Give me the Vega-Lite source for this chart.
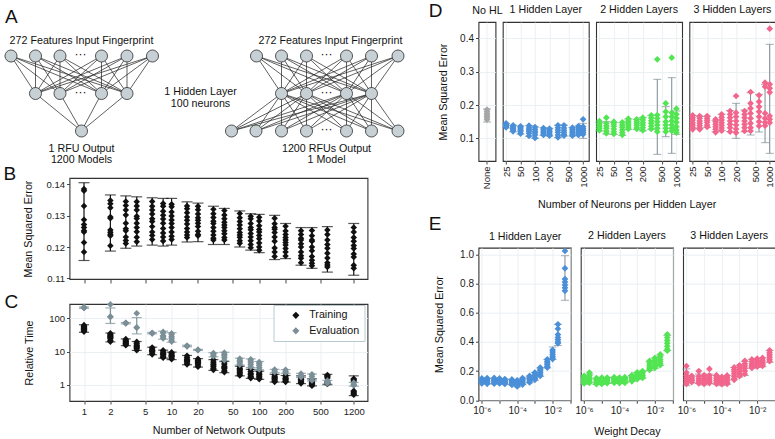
{
  "$schema": "https://vega.github.io/schema/vega-lite/v6.json",
  "padding": {"left": 1.5, "top": 0, "right": 0, "bottom": 0},
  "background": "white",
  "config": {
    "font": "Liberation Sans",
    "view": {"stroke": "#333333", "strokeWidth": 1.1},
    "axis": {"labelFontSize": 10, "labelColor": "#222222", "titleFontSize": 10.7, "titleFontWeight": "normal", "titleColor": "#111111", "tickColor": "#333333", "tickSize": 3, "tickWidth": 0.9, "domain": false, "gridColor": "#e6ecef", "gridWidth": 0.8, "labelPadding": 2},
    "title": {"fontSize": 10.7, "fontWeight": "normal", "color": "#111111", "offset": 6},
    "legend": {"labelFontSize": 10.7}
  },
  "datasets": {
    "b": [
      {"n":1,"lo":0.1157,"hi":0.1405,"v":[0.1385,0.1379,0.1331,0.1287,0.1272,0.1262,0.1252,0.1248,0.1214,0.1184]},
      {"n":2,"lo":0.1187,"hi":0.1366,"v":[0.1348,0.1338,0.1325,0.1296,0.1292,0.1254,0.1247,0.1241,0.1236,0.1204]},
      {"n":3,"lo":0.1196,"hi":0.1363,"v":[0.1345,0.1332,0.1318,0.1302,0.1276,0.1258,0.1252,0.1232,0.1221,0.1211]},
      {"n":4,"lo":0.1203,"hi":0.1360,"v":[0.1344,0.1331,0.1318,0.1298,0.1291,0.1276,0.1262,0.1249,0.1231,0.1217]},
      {"n":6,"lo":0.1206,"hi":0.1357,"v":[0.1345,0.1330,0.1318,0.1305,0.1290,0.1281,0.1265,0.1248,0.1237,0.1224]},
      {"n":8,"lo":0.1203,"hi":0.1355,"v":[0.1339,0.1330,0.1314,0.1301,0.1289,0.1276,0.1259,0.1245,0.1232,0.1219]},
      {"n":10,"lo":0.1206,"hi":0.1355,"v":[0.1336,0.1328,0.1312,0.1299,0.1286,0.1275,0.1262,0.1248,0.1234,0.1224]},
      {"n":15,"lo":0.1216,"hi":0.1344,"v":[0.1331,0.1322,0.1309,0.1296,0.1285,0.1273,0.1259,0.1248,0.1238,0.1230]},
      {"n":20,"lo":0.1217,"hi":0.1340,"v":[0.1330,0.1319,0.1305,0.1293,0.1285,0.1276,0.1265,0.1250,0.1240,0.1236]},
      {"n":30,"lo":0.1208,"hi":0.1330,"v":[0.1320,0.1306,0.1294,0.1282,0.1275,0.1262,0.1250,0.1238,0.1228,0.1222]},
      {"n":40,"lo":0.1208,"hi":0.1323,"v":[0.1316,0.1302,0.1290,0.1279,0.1270,0.1262,0.1252,0.1242,0.1230,0.1222]},
      {"n":60,"lo":0.1200,"hi":0.1315,"v":[0.1307,0.1293,0.1281,0.1270,0.1258,0.1246,0.1238,0.1231,0.1220,0.1212]},
      {"n":80,"lo":0.1190,"hi":0.1306,"v":[0.1298,0.1290,0.1275,0.1262,0.1255,0.1243,0.1232,0.1220,0.1208,0.1198]},
      {"n":100,"lo":0.1182,"hi":0.1304,"v":[0.1295,0.1283,0.1268,0.1256,0.1248,0.1237,0.1226,0.1213,0.1200,0.1190]},
      {"n":150,"lo":0.1160,"hi":0.1301,"v":[0.1292,0.1274,0.1262,0.1257,0.1246,0.1232,0.1218,0.1197,0.1184,0.1170]},
      {"n":200,"lo":0.1163,"hi":0.1275,"v":[0.1266,0.1251,0.1240,0.1230,0.1222,0.1214,0.1206,0.1195,0.1184,0.1171]},
      {"n":300,"lo":0.1142,"hi":0.1262,"v":[0.1252,0.1240,0.1228,0.1222,0.1210,0.1200,0.1184,0.1172,0.1164,0.1150]},
      {"n":400,"lo":0.1132,"hi":0.1262,"v":[0.1253,0.1236,0.1222,0.1218,0.1200,0.1188,0.1170,0.1158,0.1148,0.1140]},
      {"n":600,"lo":0.1120,"hi":0.1265,"v":[0.1254,0.1240,0.1222,0.1208,0.1196,0.1180,0.1165,0.1150,0.1143,0.1136]},
      {"n":1200,"lo":0.1110,"hi":0.1275,"v":[0.1262,0.1248,0.1230,0.1218,0.1205,0.1195,0.1178,0.1168,0.1142,0.1132]}
    ],
    "c": [
      {"n":1,"s":"Training","lo":38,"hi":64,"v":[62,57,53,50,48,45,42,40]},
      {"n":2,"s":"Training","lo":19.5,"hi":36,"v":[35,32,30,28,27,25,22,20]},
      {"n":3,"s":"Training","lo":15,"hi":24,"v":[23.5,21,20,18.5,17.5,16.5,15.5]},
      {"n":4,"s":"Training","lo":10.8,"hi":20,"v":[19.5,17,15.5,14.5,13.5,12.5,11]},
      {"n":6,"s":"Training","lo":8,"hi":13.5,"v":[13.2,12,11,10.5,10,9,8.2]},
      {"n":8,"s":"Training","lo":6.3,"hi":11,"v":[10.8,9.6,8.8,8.3,7.8,7,6.5]},
      {"n":10,"s":"Training","lo":5.7,"hi":9.6,"v":[9.4,8.5,7.8,7.4,7,6.4,5.9]},
      {"n":15,"s":"Training","lo":4,"hi":7.6,"v":[7.4,6.5,5.8,5.4,5,4.5,4.1]},
      {"n":20,"s":"Training","lo":3.4,"hi":6.1,"v":[6,5.4,5,4.7,4.3,3.9,3.5]},
      {"n":30,"s":"Training","lo":2.7,"hi":5.7,"v":[5.6,4.8,4.2,3.9,3.5,3.1,2.8]},
      {"n":40,"s":"Training","lo":2.3,"hi":5,"v":[4.9,4.2,3.6,3.3,3,2.6,2.4]},
      {"n":60,"s":"Training","lo":1.85,"hi":3.6,"v":[3.5,3.1,2.8,2.6,2.3,2.1,1.9]},
      {"n":80,"s":"Training","lo":1.55,"hi":2.9,"v":[2.85,2.5,2.2,2,1.8,1.65,1.58]},
      {"n":100,"s":"Training","lo":1.45,"hi":2.55,"v":[2.5,2.25,2.05,1.95,1.75,1.6,1.48]},
      {"n":150,"s":"Training","lo":1.2,"hi":2.05,"v":[2,1.8,1.65,1.55,1.4,1.3,1.22]},
      {"n":200,"s":"Training","lo":1.2,"hi":1.9,"v":[1.88,1.7,1.55,1.48,1.38,1.28,1.22]},
      {"n":300,"s":"Training","lo":1.08,"hi":1.85,"v":[1.82,1.6,1.45,1.38,1.28,1.17,1.1]},
      {"n":400,"s":"Training","lo":0.92,"hi":1.5,"v":[1.48,1.35,1.2,1.12,1.05,0.98,0.93]},
      {"n":600,"s":"Training","lo":1.0,"hi":2.05,"v":[1.95,1.85,1.75,1.6,1.2,1.12,1.05]},
      {"n":1200,"s":"Training","lo":0.47,"hi":1.85,"v":[1.5,1.4,1.3,0.65,0.6,0.55,0.5]},
      {"n":1,"s":"Evaluation","lo":200,"hi":220,"v":[215,210,205,208]},
      {"n":2,"s":"Evaluation","lo":70,"hi":205,"v":[263,112,110]},
      {"n":3,"s":"Evaluation","lo":68,"hi":75,"v":[72,70,73]},
      {"n":4,"s":"Evaluation","lo":34,"hi":105,"v":[141,53,52]},
      {"n":6,"s":"Evaluation","lo":34,"hi":37.5,"v":[36.5,35.5,35]},
      {"n":8,"s":"Evaluation","lo":23.5,"hi":41,"v":[39,36,30,28,25]},
      {"n":10,"s":"Evaluation","lo":19,"hi":37,"v":[35,32,28,25,22,20]},
      {"n":15,"s":"Evaluation","lo":14,"hi":15.5,"v":[15,14.6,14.3]},
      {"n":20,"s":"Evaluation","lo":10.8,"hi":11.6,"v":[11.3,11,11.2]},
      {"n":30,"s":"Evaluation","lo":6.9,"hi":9.2,"v":[9,8.5,7.8,7.2]},
      {"n":40,"s":"Evaluation","lo":5.2,"hi":9.5,"v":[9.2,8.3,7.5,6.5,5.5]},
      {"n":60,"s":"Evaluation","lo":3.9,"hi":6.3,"v":[6.1,5.5,5,4.5,4]},
      {"n":80,"s":"Evaluation","lo":3.3,"hi":6,"v":[5.8,5.2,4.6,4,3.4]},
      {"n":100,"s":"Evaluation","lo":2.8,"hi":5,"v":[4.8,4.3,3.8,3.3,2.9]},
      {"n":150,"s":"Evaluation","lo":2.3,"hi":2.9,"v":[2.85,2.6,2.4]},
      {"n":200,"s":"Evaluation","lo":2.2,"hi":2.85,"v":[2.8,2.5,2.3]},
      {"n":300,"s":"Evaluation","lo":1.65,"hi":2.2,"v":[2.15,1.9,1.7]},
      {"n":400,"s":"Evaluation","lo":1.3,"hi":2.1,"v":[2.05,1.8,1.55,1.35]},
      {"n":600,"s":"Evaluation","lo":1.05,"hi":1.35,"v":[1.32,1.2,1.1]},
      {"n":1200,"s":"Evaluation","lo":0.9,"hi":1.17,"v":[1.15,1.02,0.95]}
    ],
    "d0": [{"g":"None","lo":0.149,"hi":0.188,"v":[0.186,0.18,0.174,0.17,0.166,0.161,0.156]}],
    "d1": [
      {"n":25,"lo":0.131,"hi":0.145,"v":[0.145,0.141,0.139,0.137,0.135,0.133]},
      {"n":35,"lo":0.12,"hi":0.139,"v":[0.139,0.135,0.131,0.128,0.125,0.121]},
      {"n":50,"lo":0.113,"hi":0.137,"v":[0.136,0.132,0.128,0.124,0.12,0.114]},
      {"n":75,"lo":0.106,"hi":0.138,"v":[0.138,0.131,0.126,0.121,0.115,0.107]},
      {"n":100,"lo":0.1,"hi":0.134,"v":[0.134,0.127,0.121,0.116,0.11,0.101]},
      {"n":150,"lo":0.109,"hi":0.132,"v":[0.131,0.127,0.122,0.118,0.113,0.11]},
      {"n":200,"lo":0.107,"hi":0.13,"v":[0.129,0.125,0.12,0.116,0.111,0.108]},
      {"n":300,"lo":0.102,"hi":0.139,"v":[0.139,0.132,0.125,0.118,0.11,0.103]},
      {"n":400,"lo":0.107,"hi":0.139,"v":[0.139,0.131,0.124,0.118,0.112,0.108]},
      {"n":600,"lo":0.107,"hi":0.132,"v":[0.132,0.127,0.122,0.117,0.112,0.108]},
      {"n":800,"lo":0.109,"hi":0.137,"v":[0.137,0.131,0.126,0.12,0.115,0.11]},
      {"n":1000,"lo":0.1,"hi":0.145,"v":[0.157,0.135,0.129,0.124,0.118,0.112]}
    ],
    "d2": [
      {"n":25,"lo":0.122,"hi":0.148,"v":[0.152,0.145,0.14,0.135,0.13,0.124]},
      {"n":35,"lo":0.113,"hi":0.15,"v":[0.162,0.145,0.137,0.13,0.122,0.115]},
      {"n":50,"lo":0.112,"hi":0.148,"v":[0.15,0.143,0.136,0.128,0.12,0.113]},
      {"n":75,"lo":0.109,"hi":0.147,"v":[0.148,0.14,0.133,0.125,0.117,0.11]},
      {"n":100,"lo":0.127,"hi":0.158,"v":[0.159,0.152,0.146,0.14,0.134,0.128]},
      {"n":150,"lo":0.127,"hi":0.157,"v":[0.157,0.151,0.145,0.139,0.132,0.128]},
      {"n":200,"lo":0.122,"hi":0.162,"v":[0.162,0.155,0.147,0.14,0.132,0.124]},
      {"n":300,"lo":0.127,"hi":0.168,"v":[0.169,0.161,0.153,0.145,0.136,0.128]},
      {"n":400,"lo":0.052,"hi":0.277,"v":[0.337,0.17,0.16,0.15,0.14,0.13,0.12]},
      {"n":600,"lo":0.105,"hi":0.195,"v":[0.205,0.18,0.165,0.15,0.14,0.13,0.12]},
      {"n":800,"lo":0.055,"hi":0.282,"v":[0.342,0.177,0.165,0.152,0.14,0.13,0.122]},
      {"n":1000,"lo":0.112,"hi":0.182,"v":[0.189,0.172,0.16,0.148,0.135,0.125,0.117]}
    ],
    "d3": [
      {"n":25,"lo":0.13,"hi":0.168,"v":[0.169,0.162,0.155,0.147,0.14,0.133,0.127]},
      {"n":35,"lo":0.13,"hi":0.166,"v":[0.167,0.16,0.152,0.145,0.138,0.131,0.127]},
      {"n":50,"lo":0.133,"hi":0.166,"v":[0.167,0.16,0.154,0.148,0.14,0.134]},
      {"n":75,"lo":0.12,"hi":0.153,"v":[0.157,0.15,0.142,0.135,0.127,0.118]},
      {"n":100,"lo":0.124,"hi":0.172,"v":[0.172,0.163,0.155,0.147,0.139,0.131,0.123]},
      {"n":150,"lo":0.12,"hi":0.183,"v":[0.182,0.172,0.162,0.152,0.142,0.132,0.12]},
      {"n":200,"lo":0.1,"hi":0.205,"v":[0.227,0.177,0.165,0.152,0.14,0.128,0.117]},
      {"n":300,"lo":0.12,"hi":0.185,"v":[0.182,0.172,0.162,0.152,0.142,0.132,0.122]},
      {"n":400,"lo":0.11,"hi":0.237,"v":[0.239,0.205,0.19,0.175,0.16,0.145,0.132,0.122]},
      {"n":600,"lo":0.119,"hi":0.232,"v":[0.229,0.21,0.195,0.18,0.165,0.15,0.137]},
      {"n":800,"lo":0.087,"hi":0.262,"v":[0.267,0.255,0.175,0.16,0.148,0.138]},
      {"n":1000,"lo":0.055,"hi":0.382,"v":[0.429,0.262,0.25,0.238,0.167,0.157,0.147]}
    ],
    "e1": [
      {"w":0.000001,"lo":0.115,"hi":0.15,"v":[0.15,0.14,0.133,0.127,0.12,0.115]},
      {"w":0.000002,"lo":0.112,"hi":0.15,"v":[0.152,0.144,0.136,0.128,0.12,0.113]},
      {"w":0.000005,"lo":0.113,"hi":0.15,"v":[0.153,0.145,0.137,0.13,0.122,0.114]},
      {"w":0.00001,"lo":0.115,"hi":0.148,"v":[0.15,0.143,0.135,0.128,0.12,0.115]},
      {"w":0.00002,"lo":0.11,"hi":0.145,"v":[0.146,0.138,0.131,0.124,0.117,0.112]},
      {"w":0.00005,"lo":0.105,"hi":0.142,"v":[0.143,0.135,0.127,0.12,0.112,0.106]},
      {"w":0.0001,"lo":0.092,"hi":0.135,"v":[0.137,0.128,0.12,0.112,0.104,0.095]},
      {"w":0.0002,"lo":0.107,"hi":0.15,"v":[0.152,0.143,0.134,0.125,0.116,0.108]},
      {"w":0.0005,"lo":0.12,"hi":0.165,"v":[0.167,0.158,0.149,0.14,0.131,0.122]},
      {"w":0.001,"lo":0.137,"hi":0.19,"v":[0.19,0.18,0.17,0.16,0.15,0.14]},
      {"w":0.002,"lo":0.165,"hi":0.222,"v":[0.224,0.213,0.202,0.19,0.178,0.167]},
      {"w":0.005,"lo":0.222,"hi":0.28,"v":[0.281,0.268,0.256,0.244,0.232,0.224]},
      {"w":0.01,"lo":0.28,"hi":0.365,"v":[0.345,0.33,0.315,0.302,0.29,0.282]},
      {"w":0.02,"lo":0.375,"hi":0.52,"v":[0.52,0.49,0.45,0.43,0.415,0.4,0.39]},
      {"w":0.05,"lo":0.685,"hi":0.99,"v":[1.023,0.904,0.83,0.81,0.79,0.77,0.75]}
    ],
    "e2": [
      {"w":0.000001,"lo":0.11,"hi":0.165,"v":[0.167,0.155,0.145,0.135,0.125,0.115]},
      {"w":0.000002,"lo":0.12,"hi":0.18,"v":[0.19,0.17,0.155,0.142,0.13,0.12]},
      {"w":0.000005,"lo":0.108,"hi":0.15,"v":[0.152,0.143,0.134,0.125,0.116,0.11]},
      {"w":0.00001,"lo":0.11,"hi":0.155,"v":[0.155,0.146,0.137,0.128,0.119,0.112]},
      {"w":0.00002,"lo":0.115,"hi":0.155,"v":[0.156,0.148,0.14,0.132,0.124,0.117]},
      {"w":0.00005,"lo":0.118,"hi":0.158,"v":[0.158,0.15,0.142,0.134,0.126,0.12]},
      {"w":0.0001,"lo":0.115,"hi":0.155,"v":[0.156,0.148,0.14,0.132,0.124,0.118]},
      {"w":0.0002,"lo":0.12,"hi":0.158,"v":[0.158,0.15,0.142,0.134,0.126,0.12]},
      {"w":0.0005,"lo":0.13,"hi":0.17,"v":[0.172,0.163,0.154,0.145,0.136,0.13]},
      {"w":0.001,"lo":0.145,"hi":0.19,"v":[0.192,0.182,0.172,0.162,0.152,0.145]},
      {"w":0.002,"lo":0.152,"hi":0.198,"v":[0.2,0.19,0.18,0.17,0.16,0.153]},
      {"w":0.005,"lo":0.205,"hi":0.265,"v":[0.27,0.255,0.24,0.228,0.218,0.208]},
      {"w":0.01,"lo":0.22,"hi":0.29,"v":[0.29,0.275,0.26,0.245,0.232,0.222]},
      {"w":0.02,"lo":0.24,"hi":0.31,"v":[0.315,0.298,0.28,0.265,0.25,0.24]},
      {"w":0.05,"lo":0.34,"hi":0.445,"v":[0.452,0.43,0.41,0.39,0.37,0.35,0.34]}
    ],
    "e3": [
      {"w":0.000001,"lo":0.1,"hi":0.215,"v":[0.235,0.19,0.17,0.155,0.14,0.125,0.112]},
      {"w":0.000002,"lo":0.12,"hi":0.165,"v":[0.168,0.155,0.145,0.135,0.125]},
      {"w":0.000005,"lo":0.115,"hi":0.18,"v":[0.2,0.165,0.15,0.138,0.126,0.115]},
      {"w":0.00001,"lo":0.105,"hi":0.17,"v":[0.172,0.16,0.148,0.136,0.124,0.112]},
      {"w":0.00002,"lo":0.115,"hi":0.18,"v":[0.215,0.17,0.155,0.14,0.128,0.118]},
      {"w":0.00005,"lo":0.11,"hi":0.17,"v":[0.172,0.16,0.148,0.136,0.124,0.112]},
      {"w":0.0001,"lo":0.1,"hi":0.16,"v":[0.16,0.15,0.14,0.13,0.12,0.11]},
      {"w":0.0002,"lo":0.11,"hi":0.17,"v":[0.17,0.158,0.146,0.134,0.122,0.113]},
      {"w":0.0005,"lo":0.14,"hi":0.225,"v":[0.225,0.21,0.195,0.18,0.165,0.15,0.14]},
      {"w":0.001,"lo":0.16,"hi":0.24,"v":[0.24,0.225,0.21,0.195,0.18,0.165]},
      {"w":0.002,"lo":0.17,"hi":0.265,"v":[0.27,0.25,0.235,0.22,0.2,0.18]},
      {"w":0.005,"lo":0.22,"hi":0.28,"v":[0.28,0.265,0.25,0.24,0.23,0.222]},
      {"w":0.01,"lo":0.225,"hi":0.285,"v":[0.285,0.27,0.26,0.25,0.24,0.23]},
      {"w":0.02,"lo":0.23,"hi":0.29,"v":[0.29,0.275,0.262,0.252,0.243,0.235]},
      {"w":0.05,"lo":0.26,"hi":0.34,"v":[0.342,0.325,0.31,0.295,0.28,0.268]}
    ]
  },
  "bounds": "flush",
  "spacing": 409,
  "resolve": {"scale": {"color": "independent"}, "legend": {"color": "independent"}},
  "hconcat": [
    {
      "bounds": "flush",
      "spacing": 25,
      "resolve": {"scale": {"color": "independent"}, "legend": {"color": "independent"}},
      "vconcat": [
        {
          "width": 298, "height": 131,
          "view": {"stroke": null},
          "resolve": {"axis": {"x": "independent"}},
          "layer": [
            {
              "data": {"values": [
                {"x":9.5,"y":55,"x2":[34,58.5,100,125.5],"y2":92.5},
                {"x":34,"y":55,"x2":[34,58.5,100,125.5],"y2":92.5},
                {"x":58.5,"y":55,"x2":[34,58.5,100,125.5],"y2":92.5},
                {"x":100,"y":55,"x2":[34,58.5,100,125.5],"y2":92.5},
                {"x":125.5,"y":55,"x2":[34,58.5,100,125.5],"y2":92.5},
                {"x":151,"y":55,"x2":[34,58.5,100,125.5],"y2":92.5},
                {"x":34,"y":92.5,"x2":[80],"y2":130},
                {"x":58.5,"y":92.5,"x2":[80],"y2":130},
                {"x":100,"y":92.5,"x2":[80],"y2":130},
                {"x":125.5,"y":92.5,"x2":[80],"y2":130},
                {"x":255,"y":55,"x2":[280,305,345,370],"y2":92.5},
                {"x":280,"y":55,"x2":[280,305,345,370],"y2":92.5},
                {"x":305,"y":55,"x2":[280,305,345,370],"y2":92.5},
                {"x":345,"y":55,"x2":[280,305,345,370],"y2":92.5},
                {"x":370,"y":55,"x2":[280,305,345,370],"y2":92.5},
                {"x":396.5,"y":55,"x2":[280,305,345,370],"y2":92.5},
                {"x":280,"y":92.5,"x2":[230,254.5,280,305,345,370,396.5],"y2":130},
                {"x":305,"y":92.5,"x2":[230,254.5,280,305,345,370,396.5],"y2":130},
                {"x":345,"y":92.5,"x2":[230,254.5,280,305,345,370,396.5],"y2":130},
                {"x":370,"y":92.5,"x2":[230,254.5,280,305,345,370,396.5],"y2":130}
              ]},
              "transform": [{"flatten": ["x2"]}],
              "mark": {"type": "rule", "color": "#1e1e1e", "strokeWidth": 0.7},
              "encoding": {
                "x": {"field": "x", "type": "quantitative", "scale": {"domain": [68, 366], "nice": false, "zero": false}, "axis": {"orient": "top", "labels": false, "ticks": false, "grid": false, "domain": false, "title": "A", "titleX": -65, "titleY": 0.7, "titleFontSize": 19, "titleBaseline": "alphabetic", "titleAlign": "left", "titleAngle": 0}},
                "y": {"field": "y", "type": "quantitative", "scale": {"domain": [21, 152], "nice": false, "zero": false, "reverse": true}, "axis": null},
                "x2": {"field": "x2"},
                "y2": {"field": "y2"}
              }
            },
            {
              "data": {"values": [
                {"x":9.5,"y":55},{"x":34,"y":55},{"x":58.5,"y":55},{"x":100,"y":55},{"x":125.5,"y":55},{"x":151,"y":55},
                {"x":34,"y":92.5},{"x":58.5,"y":92.5},{"x":100,"y":92.5},{"x":125.5,"y":92.5},
                {"x":80,"y":130},
                {"x":255,"y":55},{"x":280,"y":55},{"x":305,"y":55},{"x":345,"y":55},{"x":370,"y":55},{"x":396.5,"y":55},
                {"x":280,"y":92.5},{"x":305,"y":92.5},{"x":345,"y":92.5},{"x":370,"y":92.5},
                {"x":230,"y":130},{"x":254.5,"y":130},{"x":280,"y":130},{"x":305,"y":130},{"x":345,"y":130},{"x":370,"y":130},{"x":396.5,"y":130}
              ]},
              "mark": {"type": "circle", "size": 145, "fill": "#c7d1d5", "stroke": "#2b2b2b", "strokeWidth": 0.8, "opacity": 1},
              "encoding": {
                "x": {"field": "x", "type": "quantitative", "axis": null},
                "y": {"field": "y", "type": "quantitative", "axis": null}
              }
            },
            {
              "data": {"values": [
                {"x":79,"y":53},{"x":79,"y":90.5},{"x":325,"y":53},{"x":325,"y":90.5},{"x":325,"y":128}
              ]},
              "mark": {"type": "text", "text": "···", "fontSize": 12, "baseline": "middle", "fill": "#111111"},
              "encoding": {
                "x": {"field": "x", "type": "quantitative", "axis": null},
                "y": {"field": "y", "type": "quantitative", "axis": null}
              }
            },
            {
              "data": {"values": [
                {"x":80,"y":42.5,"t":"272 Features Input Fingerprint"},
                {"x":329,"y":42.5,"t":"272 Features Input Fingerprint"},
                {"x":199,"y":94,"t":"1 Hidden Layer"},
                {"x":199,"y":106,"t":"100 neurons"},
                {"x":80,"y":151,"t":"1 RFU Output"},
                {"x":80,"y":162,"t":"1200 Models"},
                {"x":325,"y":151,"t":"1200 RFUs Output"},
                {"x":325,"y":162,"t":"1 Model"}
              ]},
              "mark": {"type": "text", "fontSize": 10.7, "baseline": "alphabetic", "color": "#111111"},
              "encoding": {
                "x": {"field": "x", "type": "quantitative", "axis": null},
                "y": {"field": "y", "type": "quantitative", "axis": null},
                "text": {"field": "t"}
              }
            }
          ]
        },
        {
          "width": 298, "height": 101,
          "data": {"name": "b"},
          "resolve": {"axis": {"x": "independent"}},
          "layer": [
            {
              "mark": {"type": "errorbar", "ticks": true, "size": 11, "thickness": 1.2, "color": "#111111"},
              "encoding": {
                "x": {"field": "n", "type": "quantitative", "scale": {"type": "log", "domain": [0.683, 1722], "nice": false}, "axis": {"values": [1,2,5,10,20,50,100,200,500,1200], "labels": false, "title": null, "grid": false, "tickSize": 4}},
                "y": {"field": "lo", "type": "quantitative", "scale": {"domain": [0.1098, 0.142], "nice": false, "zero": false}, "axis": {"values": [0.11,0.12,0.13,0.14], "format": ".2f", "title": "Mean Squared Error", "grid": false, "labelFontSize": 9.5, "titleX": -38.5, "titleBaseline": "alphabetic"}},
                "y2": {"field": "hi"}
              }
            },
            {
              "transform": [{"flatten": ["v"]}],
              "mark": {"type": "point", "shape": "diamond", "filled": true, "size": 42, "color": "#111111", "opacity": 1},
              "encoding": {
                "x": {"field": "n", "type": "quantitative", "scale": {"type": "log", "domain": [0.683, 1722], "nice": false}, "axis": {"orient": "top", "labels": false, "ticks": false, "grid": false, "domain": false, "title": "B", "titleX": -66.5, "titleY": 1.3, "titleFontSize": 19, "titleBaseline": "alphabetic", "titleAlign": "left", "titleAngle": 0}},
                "y": {"field": "v", "type": "quantitative", "scale": {"domain": [0.1098, 0.142], "nice": false, "zero": false}, "axis": {"values": [0.11,0.12,0.13,0.14], "format": ".2f", "title": "Mean Squared Error", "grid": false, "labelFontSize": 9.5, "titleX": -38.5, "titleBaseline": "alphabetic"}}
              }
            }
          ]
        },
        {
          "width": 298, "height": 97,
          "data": {"name": "c"},
          "resolve": {"axis": {"x": "independent"}},
          "layer": [
            {
              "transform": [{"filter": "datum.s == 'Training'"}],
              "mark": {"type": "errorbar", "ticks": true, "size": 10, "thickness": 1.2, "color": "#111111"},
              "encoding": {
                "x": {"field": "n", "type": "quantitative", "scale": {"type": "log", "domain": [0.683, 1722], "nice": false}, "axis": {"values": [1,2,5,10,20,50,100,200,500,1200], "format": "d", "title": "Number of Network Outputs", "grid": true, "labelFontSize": 9.5, "titleY": 32.5, "titleBaseline": "alphabetic"}},
                "y": {"field": "lo", "type": "quantitative", "scale": {"type": "log", "domain": [0.323, 270], "nice": false}, "axis": {"values": [1,10,100], "format": "d", "title": "Relative Time", "grid": true, "labelFontSize": 9.5, "titleX": -37.5, "titleBaseline": "alphabetic"}},
                "y2": {"field": "hi"}
              }
            },
            {
              "transform": [{"filter": "datum.s == 'Evaluation'"}],
              "mark": {"type": "errorbar", "ticks": true, "size": 10, "thickness": 1.2, "color": "#7b8f97"},
              "encoding": {
                "x": {"field": "n", "type": "quantitative", "scale": {"type": "log", "domain": [0.683, 1722], "nice": false}, "axis": null},
                "y": {"field": "lo", "type": "quantitative", "scale": {"type": "log", "domain": [0.323, 270], "nice": false}, "axis": {"values": [1,10,100], "format": "d", "title": "Relative Time", "grid": true, "labelFontSize": 9.5, "titleX": -37.5, "titleBaseline": "alphabetic"}},
                "y2": {"field": "hi"}
              }
            },
            {
              "transform": [{"flatten": ["v"]}],
              "mark": {"type": "point", "shape": "diamond", "filled": true, "size": 45, "opacity": 1},
              "encoding": {
                "x": {"field": "n", "type": "quantitative", "scale": {"type": "log", "domain": [0.683, 1722], "nice": false}, "axis": {"orient": "top", "labels": false, "ticks": false, "grid": false, "domain": false, "title": "C", "titleX": -65.5, "titleY": 3.7, "titleFontSize": 19, "titleBaseline": "alphabetic", "titleAlign": "left", "titleAngle": 0}},
                "y": {"field": "v", "type": "quantitative", "scale": {"type": "log", "domain": [0.323, 270], "nice": false}, "axis": {"values": [1,10,100], "format": "d", "title": "Relative Time", "grid": true, "labelFontSize": 9.5, "titleX": -37.5, "titleBaseline": "alphabetic"}},
                "color": {"field": "s", "type": "nominal", "scale": {"domain": ["Training", "Evaluation"], "range": ["#111111", "#7b8f97"]},
                  "legend": {"title": null, "orient": "none", "legendX": 204, "legendY": 1, "symbolType": "diamond", "symbolSize": 50, "labelFontSize": 10.7, "labelColor": "#111111", "strokeColor": "#b9cad1", "fillColor": "#ffffff", "padding": 5, "rowPadding": 3.5, "labelOffset": 8, "symbolOffset": 12}}
              }
            }
          ]
        }
      ]
    },
    {
      "bounds": "flush",
      "spacing": 225.7,
      "vconcat": [
        {
          "bounds": "flush",
          "spacing": 7.3,
          "hconcat": [
            {
              "width": 17, "height": 139,
              "data": {"name": "d0"},
              "resolve": {"axis": {"x": "independent"}},
              "layer": [
                {
                  "mark": {"type": "errorbar", "ticks": true, "size": 8, "thickness": 1, "color": "#7c8a90"},
                  "encoding": {
                    "x": {"field": "g", "type": "nominal", "axis": {"labelAngle": -90, "grid": true, "labelFontSize": 9.5, "title": "D", "titleX": -50.2, "titleY": -145, "titleFontSize": 19, "titleBaseline": "alphabetic", "titleAlign": "left", "titleAngle": 0}},
                    "y": {"field": "lo", "type": "quantitative", "scale": {"domain": [0.032, 0.449], "nice": false, "zero": false}, "axis": {"values": [0.1,0.2,0.3,0.4], "format": ".1f", "title": "Mean Squared Error", "grid": true, "titleX": -32.2, "titleBaseline": "alphabetic"}},
                    "y2": {"field": "hi"}
                  }
                },
                {
                  "transform": [{"flatten": ["v"]}],
                  "mark": {"type": "point", "shape": "diamond", "filled": true, "size": 45, "color": "#a6a6a6", "opacity": 1},
                  "encoding": {
                    "x": {"field": "g", "type": "nominal", "axis": {"orient": "top", "labels": false, "ticks": false, "grid": false, "domain": false, "title": "No HL", "titleX": 8.5, "titleY": -8.2, "titleBaseline": "alphabetic", "titleAlign": "center", "titleAngle": 0}},
                    "y": {"field": "v", "type": "quantitative", "scale": {"domain": [0.032, 0.449], "nice": false, "zero": false}, "axis": {"values": [0.1,0.2,0.3,0.4], "format": ".1f", "title": "Mean Squared Error", "grid": true, "titleX": -32.2, "titleBaseline": "alphabetic"}}
                  }
                }
              ]
            },
            {
              "width": 86, "height": 139,
              "title": {"text": "1 Hidden Layer"},
              "data": {"name": "d1"},
              "encoding": {"x": {"field": "n", "type": "quantitative", "scale": {"type": "log", "domain": [21.4, 1313], "nice": false}, "axis": {"values": [25,50,100,200,500,1000], "format": "d", "labelAngle": -90, "title": null, "grid": true, "labelFontSize": 9.5}}},
              "layer": [
                {
                  "mark": {"type": "errorbar", "ticks": true, "size": 8, "thickness": 1, "color": "#7c8a90"},
                  "encoding": {
                    "y": {"field": "lo", "type": "quantitative", "scale": {"domain": [0.032, 0.449], "nice": false, "zero": false}, "axis": {"values": [0.1,0.2,0.3,0.4], "labels": false, "ticks": false, "title": null, "grid": true}},
                    "y2": {"field": "hi"}
                  }
                },
                {
                  "transform": [{"flatten": ["v"]}],
                  "mark": {"type": "point", "shape": "diamond", "filled": true, "size": 45, "color": "#4a8fd8", "opacity": 1},
                  "encoding": {
                    "y": {"field": "v", "type": "quantitative", "scale": {"domain": [0.032, 0.449], "nice": false, "zero": false}, "axis": {"values": [0.1,0.2,0.3,0.4], "labels": false, "ticks": false, "title": null, "grid": true}}
                  }
                }
              ]
            },
            {
              "width": 86, "height": 139,
              "title": {"text": "2 Hidden Layers"},
              "data": {"name": "d2"},
              "encoding": {"x": {"field": "n", "type": "quantitative", "scale": {"type": "log", "domain": [21.4, 1313], "nice": false}, "axis": {"values": [25,50,100,200,500,1000], "format": "d", "labelAngle": -90, "title": "Number of Neurons per Hidden Layer", "titleX": 30.5, "titleY": 46, "titleBaseline": "alphabetic", "grid": true, "labelFontSize": 9.5}}},
              "layer": [
                {
                  "mark": {"type": "errorbar", "ticks": true, "size": 8, "thickness": 1, "color": "#7c8a90"},
                  "encoding": {
                    "y": {"field": "lo", "type": "quantitative", "scale": {"domain": [0.032, 0.449], "nice": false, "zero": false}, "axis": {"values": [0.1,0.2,0.3,0.4], "labels": false, "ticks": false, "title": null, "grid": true}},
                    "y2": {"field": "hi"}
                  }
                },
                {
                  "transform": [{"flatten": ["v"]}],
                  "mark": {"type": "point", "shape": "diamond", "filled": true, "size": 45, "color": "#52e552", "opacity": 1},
                  "encoding": {
                    "y": {"field": "v", "type": "quantitative", "scale": {"domain": [0.032, 0.449], "nice": false, "zero": false}, "axis": {"values": [0.1,0.2,0.3,0.4], "labels": false, "ticks": false, "title": null, "grid": true}}
                  }
                }
              ]
            },
            {
              "width": 86, "height": 139,
              "title": {"text": "3 Hidden Layers"},
              "data": {"name": "d3"},
              "encoding": {"x": {"field": "n", "type": "quantitative", "scale": {"type": "log", "domain": [21.4, 1313], "nice": false}, "axis": {"values": [25,50,100,200,500,1000], "format": "d", "labelAngle": -90, "title": null, "grid": true, "labelFontSize": 9.5}}},
              "layer": [
                {
                  "mark": {"type": "errorbar", "ticks": true, "size": 8, "thickness": 1, "color": "#7c8a90"},
                  "encoding": {
                    "y": {"field": "lo", "type": "quantitative", "scale": {"domain": [0.032, 0.449], "nice": false, "zero": false}, "axis": {"values": [0.1,0.2,0.3,0.4], "labels": false, "ticks": false, "title": null, "grid": true}},
                    "y2": {"field": "hi"}
                  }
                },
                {
                  "transform": [{"flatten": ["v"]}],
                  "mark": {"type": "point", "shape": "diamond", "filled": true, "size": 45, "color": "#f2658c", "opacity": 1},
                  "encoding": {
                    "y": {"field": "v", "type": "quantitative", "scale": {"domain": [0.032, 0.449], "nice": false, "zero": false}, "axis": {"values": [0.1,0.2,0.3,0.4], "labels": false, "ticks": false, "title": null, "grid": true}}
                  }
                }
              ]
            }
          ]
        },
        {
          "bounds": "flush",
          "spacing": 9.3,
          "hconcat": [
            {
              "width": 92.3, "height": 152.6,
              "data": {"name": "e1"},
              "resolve": {"axis": {"x": "independent"}},
              "layer": [
                {
                  "mark": {"type": "errorbar", "ticks": true, "size": 8, "thickness": 1, "color": "#7c8a90"},
                  "encoding": {
                    "x": {"field": "w", "type": "quantitative", "scale": {"type": "log", "domain": [0.00000065, 0.1067], "nice": false}, "axis": {"values": [0.000001,0.00001,0.0001,0.001,0.01,0.1], "labelExpr": "datum.value < 0.000002 ? '10⁻⁶' : (datum.value > 0.00005 && datum.value < 0.0002) ? '10⁻⁴' : (datum.value > 0.005 && datum.value < 0.02) ? '10⁻²' : ''", "grid": true, "title": "E", "titleX": -50.2, "titleY": -171, "titleFontSize": 19, "titleBaseline": "alphabetic", "titleAlign": "left", "titleAngle": 0}},
                    "y": {"field": "lo", "type": "quantitative", "scale": {"domain": [0, 1.045], "nice": false, "zero": false}, "axis": {"values": [0,0.2,0.4,0.6,0.8,1.0], "format": ".1f", "title": "Mean Squared Error", "grid": true, "titleX": -35.7, "titleBaseline": "alphabetic"}},
                    "y2": {"field": "hi"}
                  }
                },
                {
                  "transform": [{"flatten": ["v"]}],
                  "mark": {"type": "point", "shape": "diamond", "filled": true, "size": 45, "color": "#4a8fd8", "opacity": 1},
                  "encoding": {
                    "x": {"field": "w", "type": "quantitative", "scale": {"type": "log", "domain": [0.00000065, 0.1067], "nice": false}, "axis": {"orient": "top", "labels": false, "ticks": false, "grid": false, "domain": false, "title": "1 Hidden Layer", "titleX": 46.15, "titleY": -8.2, "titleBaseline": "alphabetic", "titleAlign": "center", "titleAngle": 0}},
                    "y": {"field": "v", "type": "quantitative", "scale": {"domain": [0, 1.045], "nice": false, "zero": false}, "axis": {"values": [0,0.2,0.4,0.6,0.8,1.0], "format": ".1f", "title": "Mean Squared Error", "grid": true, "titleX": -35.7, "titleBaseline": "alphabetic"}}
                  }
                }
              ]
            },
            {
              "width": 92.3, "height": 152.6,
              "title": {"text": "2 Hidden Layers"},
              "data": {"name": "e2"},
              "encoding": {"x": {"field": "w", "type": "quantitative", "scale": {"type": "log", "domain": [0.00000065, 0.1067], "nice": false}, "axis": {"values": [0.000001,0.00001,0.0001,0.001,0.01,0.1], "labelExpr": "datum.value < 0.000002 ? '10⁻⁶' : (datum.value > 0.00005 && datum.value < 0.0002) ? '10⁻⁴' : (datum.value > 0.005 && datum.value < 0.02) ? '10⁻²' : ''", "title": "Weight Decay", "titleY": 34.4, "titleBaseline": "alphabetic", "grid": true}}},
              "layer": [
                {
                  "mark": {"type": "errorbar", "ticks": true, "size": 8, "thickness": 1, "color": "#7c8a90"},
                  "encoding": {
                    "y": {"field": "lo", "type": "quantitative", "scale": {"domain": [0, 1.045], "nice": false, "zero": false}, "axis": {"values": [0,0.2,0.4,0.6,0.8,1.0], "labels": false, "ticks": false, "title": null, "grid": true}},
                    "y2": {"field": "hi"}
                  }
                },
                {
                  "transform": [{"flatten": ["v"]}],
                  "mark": {"type": "point", "shape": "diamond", "filled": true, "size": 45, "color": "#52e552", "opacity": 1},
                  "encoding": {
                    "y": {"field": "v", "type": "quantitative", "scale": {"domain": [0, 1.045], "nice": false, "zero": false}, "axis": {"values": [0,0.2,0.4,0.6,0.8,1.0], "labels": false, "ticks": false, "title": null, "grid": true}}
                  }
                }
              ]
            },
            {
              "width": 92.3, "height": 152.6,
              "title": {"text": "3 Hidden Layers"},
              "data": {"name": "e3"},
              "encoding": {"x": {"field": "w", "type": "quantitative", "scale": {"type": "log", "domain": [0.00000065, 0.1067], "nice": false}, "axis": {"values": [0.000001,0.00001,0.0001,0.001,0.01,0.1], "labelExpr": "datum.value < 0.000002 ? '10⁻⁶' : (datum.value > 0.00005 && datum.value < 0.0002) ? '10⁻⁴' : (datum.value > 0.005 && datum.value < 0.02) ? '10⁻²' : ''", "title": null, "grid": true}}},
              "layer": [
                {
                  "mark": {"type": "errorbar", "ticks": true, "size": 8, "thickness": 1, "color": "#7c8a90"},
                  "encoding": {
                    "y": {"field": "lo", "type": "quantitative", "scale": {"domain": [0, 1.045], "nice": false, "zero": false}, "axis": {"values": [0,0.2,0.4,0.6,0.8,1.0], "labels": false, "ticks": false, "title": null, "grid": true}},
                    "y2": {"field": "hi"}
                  }
                },
                {
                  "transform": [{"flatten": ["v"]}],
                  "mark": {"type": "point", "shape": "diamond", "filled": true, "size": 45, "color": "#f2658c", "opacity": 1},
                  "encoding": {
                    "y": {"field": "v", "type": "quantitative", "scale": {"domain": [0, 1.045], "nice": false, "zero": false}, "axis": {"values": [0,0.2,0.4,0.6,0.8,1.0], "labels": false, "ticks": false, "title": null, "grid": true}}
                  }
                }
              ]
            }
          ]
        }
      ]
    }
  ]
}
